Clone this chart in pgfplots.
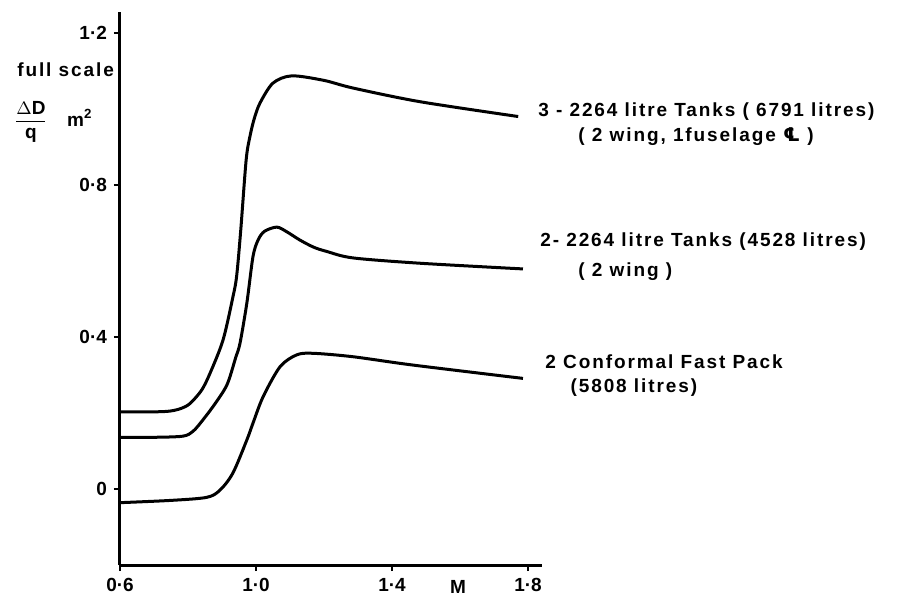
\documentclass[border=0pt]{standalone}
\usepackage{fontspec}
\setmainfont{Liberation Sans}[LetterSpace=10]
\newfontfamily\tickfont{Liberation Sans}
\newfontfamily\symfont{DejaVu Sans}
\usepackage{pgfplots}
\pgfplotsset{compat=1.18}
\begin{document}
\begin{tikzpicture}
\path[use as bounding box] (-60pt,-18pt) rectangle (392.5pt,282.5pt);
\begin{axis}[
  at={(0,0)}, anchor=south west,
  scale only axis, width=211pt, height=276.5pt,
  xmin=0.6, xmax=1.841, ymin=-0.2, ymax=1.255,
  axis x line*=bottom, axis y line*=left,
  axis line style={line width=1.5pt,-},
  xtick={0.6,1.0,1.4,1.8}, xticklabels={0·6,1·0,1·4,1·8},
  ytick={0,0.4,0.8,1.2}, yticklabels={0,0·4,0·8,1·2},
  tick align=outside, major tick length=3pt,
  tick style={line width=1.2pt,black},
  every tick label/.append style={font=\tickfont\bfseries\fontsize{9.5}{11}\selectfont},
  clip=false,
]
\addplot[black, line width=1.5pt, smooth, tension=0.5] coordinates {
(0.6,0.203)(0.70,0.203)(0.747,0.205)(0.78,0.212)(0.806,0.225)(0.84,0.26)(0.865,0.305)(0.903,0.392)(0.932,0.505)(0.943,0.56)(0.955,0.68)(0.971,0.866)(0.982,0.927)(0.995,0.975)(1.012,1.016)(1.05,1.068)(1.105,1.087)(1.2,1.075)(1.285,1.055)(1.482,1.019)(1.771,0.980)};
\addplot[black, line width=1.5pt, smooth, tension=0.5] coordinates {
(0.6,0.136)(0.70,0.136)(0.785,0.139)(0.815,0.152)(0.844,0.182)(0.88,0.225)(0.915,0.275)(0.94,0.345)(0.953,0.384)(0.973,0.489)(0.991,0.611)(1.006,0.655)(1.025,0.678)(1.061,0.689)(1.09,0.677)(1.129,0.655)(1.17,0.636)(1.208,0.625)(1.285,0.608)(1.482,0.594)(1.785,0.579)};
\addplot[black, line width=1.5pt, smooth, tension=0.5] coordinates {
(0.6,-0.036)(0.75,-0.03)(0.855,-0.022)(0.894,-0.003)(0.932,0.042)(0.973,0.129)(0.991,0.173)(1.021,0.243)(1.071,0.322)(1.12,0.353)(1.168,0.357)(1.285,0.348)(1.462,0.326)(1.785,0.291)};
\begin{scope}[every node/.style={font=\bfseries\fontsize{9.5}{11}\selectfont, anchor=west, inner sep=0pt}]
\node at (axis cs:1.829,0.992) {3 - 2264 litre Tanks ( 6791 litres)};
\node at (axis cs:1.947,0.926) {( 2 wing, 1fuselage {\symfont ℄} )};
\node at (axis cs:1.835,0.650) {2- 2264 litre Tanks (4528 litres)};
\node at (axis cs:1.947,0.571) {( 2 wing )};
\node at (axis cs:1.850,0.334) {2 Conformal Fast Pack};
\node at (axis cs:1.924,0.266) {(5808 litres)};
\node[anchor=center] at (axis cs:1.594,-0.258) {M};
\node[anchor=center] at (axis cs:0.44,1.103) {full scale};
\node[anchor=center] at (axis cs:0.338,0.966) {$\displaystyle\frac{\Delta\mathbf{D}}{\mathbf{q}}$};
\node[anchor=center] at (axis cs:0.482,0.976) {m\textsuperscript{2}};
\end{scope}
\end{axis}
\end{tikzpicture}
\end{document}
